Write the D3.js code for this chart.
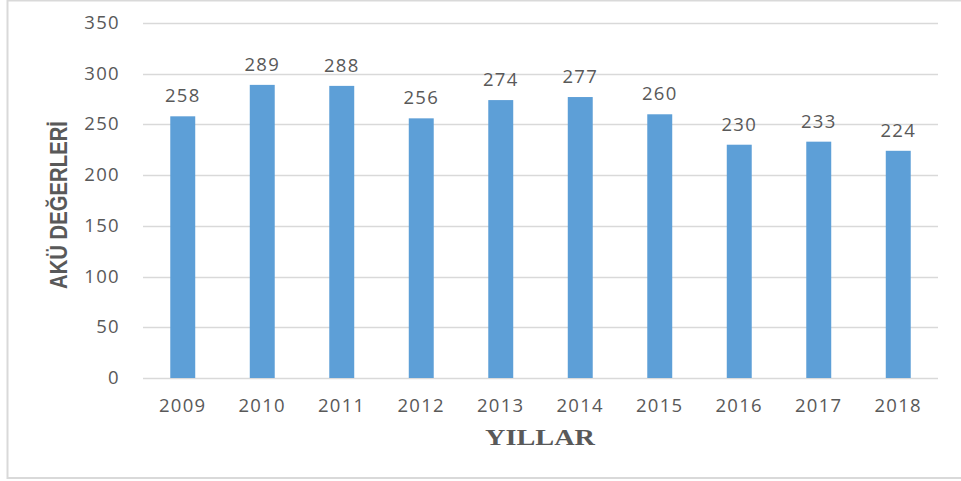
<!DOCTYPE html>
<html lang="tr">
<head>
<meta charset="UTF-8">
<title>AKÜ Değerleri</title>
<script src="https://d3js.org/d3.v7.min.js"></script>
<style>
  body { margin: 0; background: #fff; }
  .tick-label, .val-label { font-family: "Open Sans", sans-serif; fill: #595959; }
</style>
</head>
<body>
<svg id="chart" width="961" height="481"></svg>
<script>
const years = ["2009", "2010", "2011", "2012", "2013", "2014", "2015", "2016", "2017", "2018"];
const values = [258, 289, 288, 256, 274, 277, 260, 230, 233, 224];
const yTicks = [0, 50, 100, 150, 200, 250, 300, 350];

const svg = d3.select("#chart");

// outer frame
svg.append("rect")
    .attr("x", 7.5).attr("y", 0.5)
    .attr("width", 960).attr("height", 477.5)
    .attr("fill", "none").attr("stroke", "#d9d9d9").attr("stroke-width", 2);

const x = d3.scaleBand()
    .domain(years)
    .range([143, 938])
    .paddingInner(0.686)
    .paddingOuter(0.343);

const y = d3.scaleLinear().domain([0, 350]).range([378, 23]);

// gridlines
svg.append("g").selectAll("line")
    .data(yTicks)
    .join("line")
    .attr("x1", 143).attr("x2", 938)
    .attr("y1", d => Math.round(y(d)) + 0.5)
    .attr("y2", d => Math.round(y(d)) + 0.5)
    .attr("stroke", "#d9d9d9").attr("stroke-width", 1.5);

// y tick labels
svg.append("g").selectAll("text")
    .data(yTicks)
    .join("text")
    .attr("class", "tick-label")
    .attr("x", 120)
    .attr("y", d => y(d) + 6)
    .attr("text-anchor", "end")
    .attr("font-size", 18.5)
    .attr("letter-spacing", 1.3)
    .text(d => d);

// bars
svg.append("g").selectAll("rect")
    .data(values)
    .join("rect")
    .attr("x", (d, i) => x(years[i]))
    .attr("width", x.bandwidth())
    .attr("y", d => y(d))
    .attr("height", d => y(0) - y(d))
    .attr("fill", "#5d9fd7");

// value labels
svg.append("g").selectAll("text")
    .data(values)
    .join("text")
    .attr("class", "val-label")
    .attr("x", (d, i) => x(years[i]) + x.bandwidth() / 2)
    .attr("y", d => y(d) - 14)
    .attr("text-anchor", "middle")
    .attr("font-size", 18.5)
    .attr("letter-spacing", 1.3)
    .text(d => d);

// x tick labels
svg.append("g").selectAll("text")
    .data(years)
    .join("text")
    .attr("class", "tick-label")
    .attr("x", d => x(d) + x.bandwidth() / 2)
    .attr("y", 412)
    .attr("text-anchor", "middle")
    .attr("font-size", 18.5)
    .attr("letter-spacing", 1.3)
    .text(d => d);

// axis titles
svg.append("text")
    .attr("x", 540).attr("y", 445)
    .attr("text-anchor", "middle")
    .attr("font-family", "'Liberation Serif', 'Times New Roman', serif")
    .attr("font-weight", "bold")
    .attr("font-size", 24)
    .attr("fill", "#595959")
    .attr("textLength", 110)
    .attr("lengthAdjust", "spacingAndGlyphs")
    .text("YILLAR");

svg.append("text")
    .attr("transform", "translate(67,205) rotate(-90)")
    .attr("text-anchor", "middle")
    .attr("font-family", "'Liberation Sans Narrow', 'Liberation Sans', sans-serif")
    .attr("font-weight", "bold")
    .attr("font-size", 23)
    .attr("fill", "#595959")
    .attr("textLength", 168)
    .attr("lengthAdjust", "spacingAndGlyphs")
    .text("AKÜ DEĞERLERİ");
</script>
</body>
</html>
